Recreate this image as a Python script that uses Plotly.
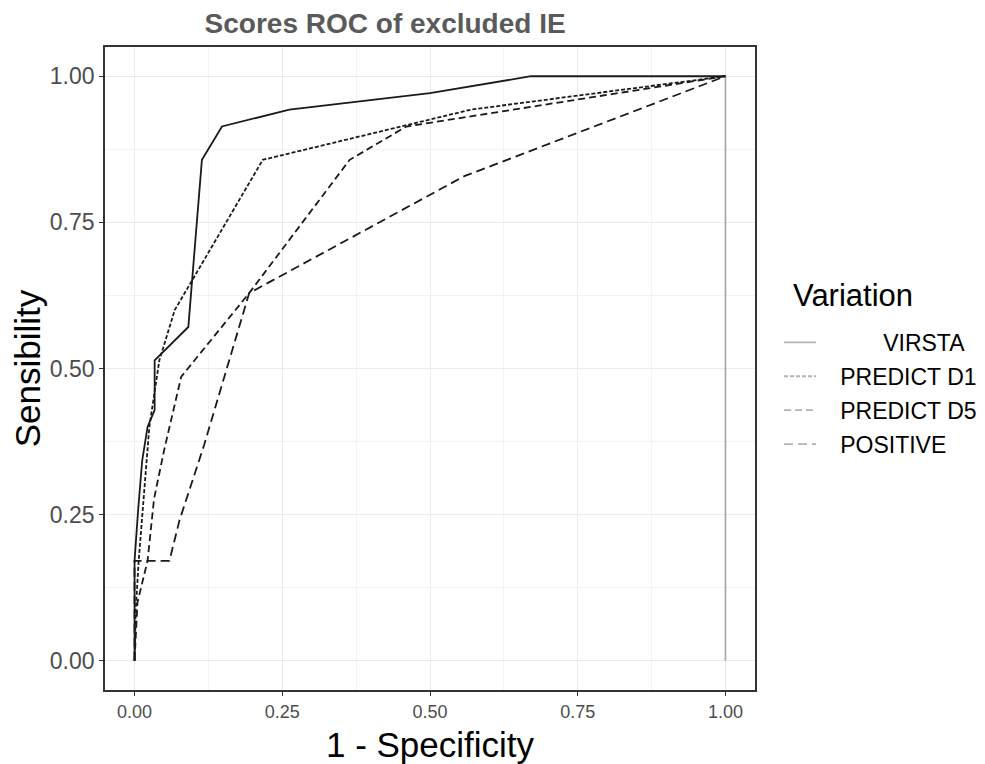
import plotly.graph_objects as go

# ROC data (1 - specificity, sensitivity)
virsta_x = [0, 0, 0.006, 0.013, 0.022, 0.034, 0.034, 0.091, 0.114, 0.148, 0.262, 0.5, 0.671, 1]
virsta_y = [0, 0.171, 0.257, 0.343, 0.400, 0.429, 0.514, 0.571, 0.857, 0.914, 0.943, 0.971, 1, 1]

d1_x = [0, 0.002, 0.007, 0.014, 0.025, 0.042, 0.068, 0.217, 0.57, 1]
d1_y = [0, 0.086, 0.171, 0.257, 0.400, 0.514, 0.600, 0.857, 0.943, 1]

d5_x = [0, 0.005, 0.022, 0.033, 0.050, 0.079, 0.194, 0.364, 0.46, 1]
d5_y = [0, 0.100, 0.171, 0.277, 0.360, 0.486, 0.629, 0.857, 0.914, 1]

pos_x = [0, 0, 0.059, 0.076, 0.118, 0.194, 0.558, 1]
pos_y = [0, 0.171, 0.171, 0.240, 0.370, 0.629, 0.829, 1]

ref_x = [1, 1]
ref_y = [0, 1]

NB = "\u00a0"
PAD = NB * 3
series = [
    (PAD + NB * 6 + "\u2009VIRSTA", virsta_x, virsta_y, "solid"),
    (PAD + "PREDICT D1", d1_x, d1_y, "4px,2px"),
    (PAD + "PREDICT D5", d5_x, d5_y, "7px,4px"),
    (PAD + "POSITIVE", pos_x, pos_y, "9px,5px"),
]

ticks = [0, 0.25, 0.5, 0.75, 1.0]
tick_labels = ["0.00", "0.25", "0.50", "0.75", "1.00"]

fig = go.Figure()

fig.add_trace(go.Scatter(x=ref_x, y=ref_y, mode="lines",
                         line=dict(color="#ababab", width=1.8),
                         showlegend=False, hoverinfo="skip"))

for i, (name, xs, ys, dash) in enumerate(series):
    fig.add_trace(go.Scatter(x=xs, y=ys, mode="lines", name=name.strip(NB + "\u2009"),
                             line=dict(color="#1a1a1a", width=1.8, dash=dash),
                             showlegend=False))
    # legend key (grey, as in the reference)
    fig.add_trace(go.Scatter(x=[None], y=[None], mode="lines", name=name,
                             legendgroup=f"g{i}",
                             line=dict(color="#b3b3b3", width=1.8, dash=dash),
                             showlegend=True))

axis_common = dict(
    range=[-0.05, 1.05],
    tickvals=ticks, ticktext=tick_labels,
    showgrid=True, gridcolor="#ebebeb", gridwidth=1.2,
    minor=dict(dtick=0.125, tick0=0, showgrid=True, gridcolor="#f3f3f3", gridwidth=1),
    zeroline=False, automargin=False,
    showline=True, mirror=True, linecolor="#333333", linewidth=1.8,
    ticks="outside", ticklen=4, tickcolor="#333333", tickwidth=1,
)

fig.update_layout(
    width=977, height=756,
    paper_bgcolor="white", plot_bgcolor="white",
    margin=dict(l=97, r=230, t=39, b=74, autoexpand=False),
    font=dict(family="Liberation Sans, Arial, sans-serif", color="#000000"),
    title=dict(text="<b>Scores ROC of excluded IE</b>", x=0.386, xanchor="center",
               y=0.980, yanchor="middle",
               font=dict(size=28, color="#5a5a5a")),
    xaxis=dict(**axis_common,
               tickfont=dict(size=18, color="#4d4d4d"),
               title=dict(text="1 - Specificity", font=dict(size=35), standoff=13)),
    yaxis=dict(**axis_common,
               tickfont=dict(size=23, color="#4d4d4d"),
               title=dict(text="Sensibility", font=dict(size=35), standoff=5)),
    legend=dict(
        x=1.037, xanchor="left", y=0.574, yanchor="top",
        font=dict(size=23),
        tracegroupgap=1,
        itemwidth=32,
        bgcolor="rgba(0,0,0,0)",
    ),
    annotations=[dict(text="Variation", xref="paper", yref="paper",
                      x=1.055, y=0.614, xanchor="left", yanchor="middle",
                      showarrow=False, font=dict(size=31, color="#000000"))],
)

fig.write_html("out.html")
